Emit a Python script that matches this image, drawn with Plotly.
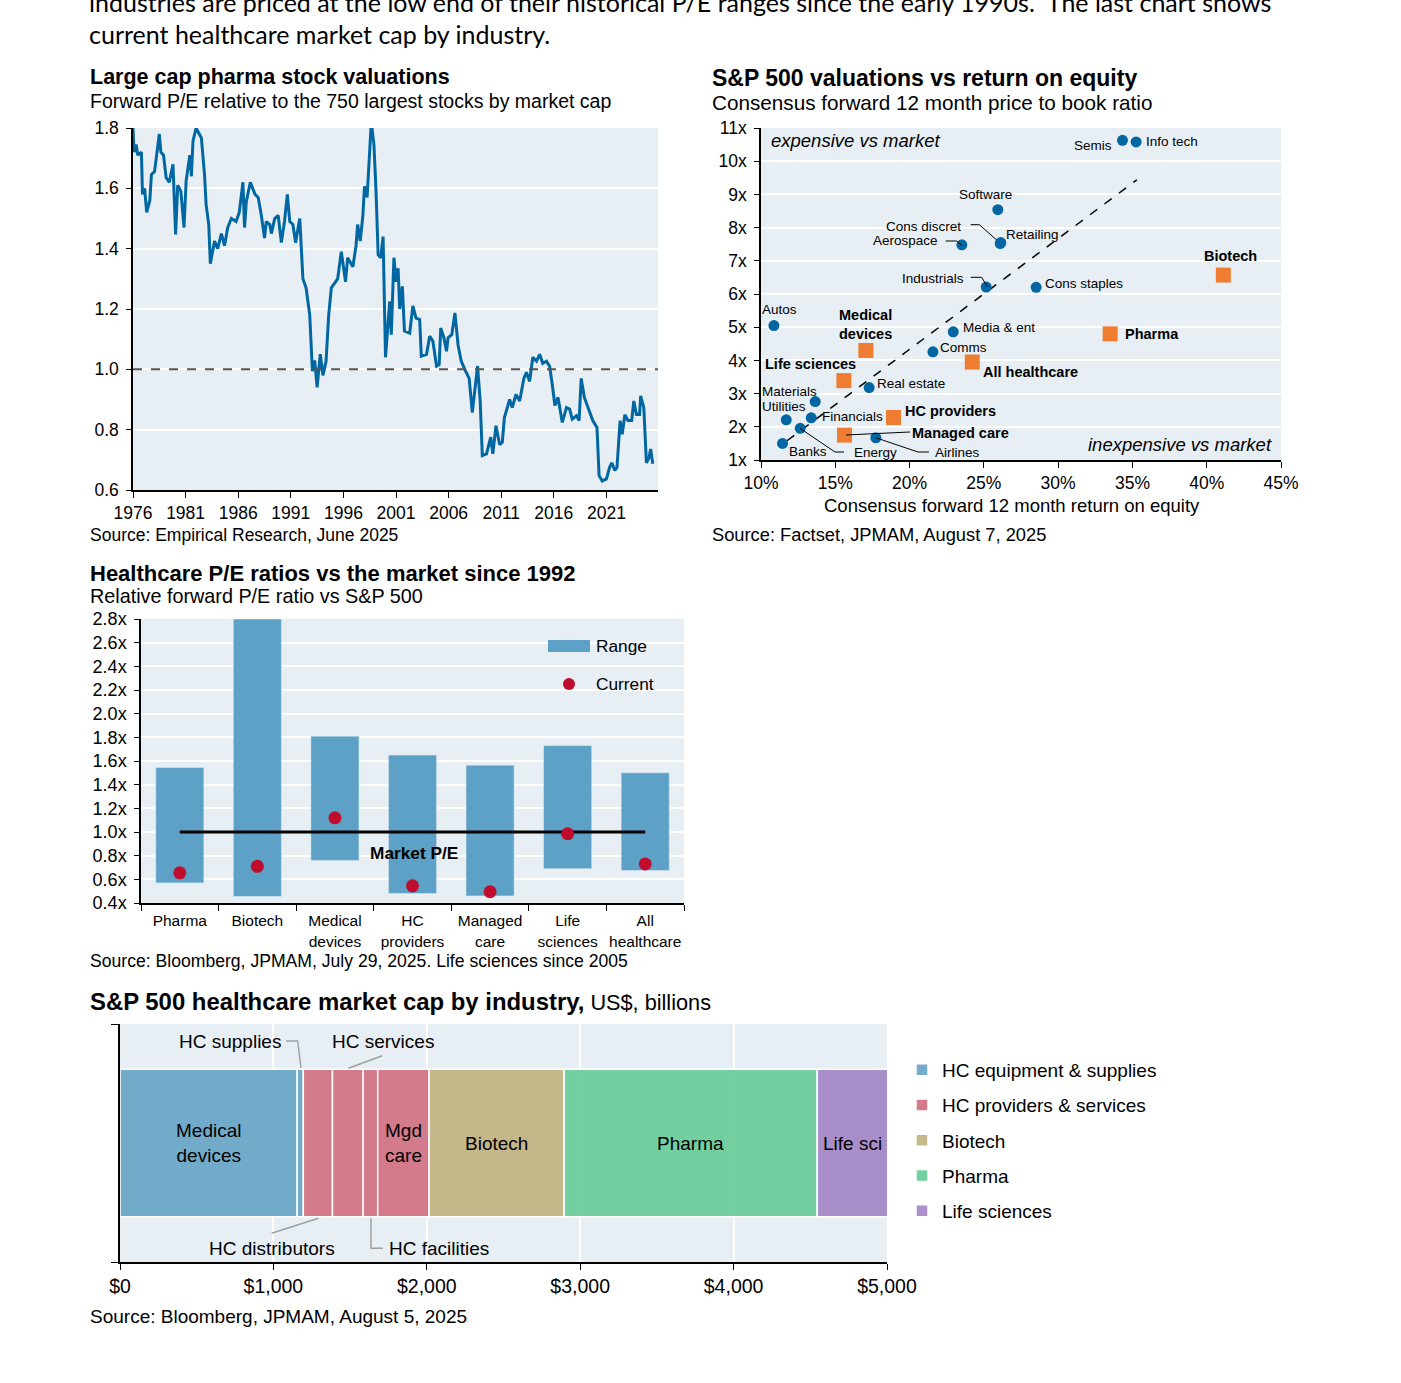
import plotly.graph_objects as go

W, H = 1401, 1383
FONT = "Liberation Sans, Arial, Helvetica, sans-serif"
BG = "#E7EFF5"
BLUE = "#0067A3"
ORANGE = "#EE7D31"

# ---------------- Chart 1: large cap pharma relative P/E ----------------
pe_years = [1976.0, 1976.1, 1976.3, 1976.45, 1976.8, 1976.9, 1977.1, 1977.3, 1977.6, 1977.75,
            1978.05, 1978.2, 1978.5, 1978.65, 1978.9, 1979.15, 1979.45, 1979.8, 1980.05, 1980.25,
            1980.55, 1980.85, 1981.05, 1981.4, 1981.55, 1981.7, 1982.0, 1982.5, 1982.8, 1982.95,
            1983.2, 1983.35, 1983.75, 1984.05, 1984.4, 1984.7, 1985.0, 1985.35, 1985.8, 1986.1,
            1986.45, 1986.6, 1986.77, 1987.15, 1987.6, 1987.9, 1988.2, 1988.5, 1988.67, 1989.0,
            1989.15, 1989.47, 1989.8, 1990.1, 1990.4, 1990.67, 1990.9, 1991.2, 1991.45, 1991.85,
            1992.15, 1992.45, 1992.8, 1993.05, 1993.27, 1993.5, 1993.8, 1994.05, 1994.35, 1994.6,
            1994.85, 1995.45, 1995.8, 1996.2, 1996.4, 1996.9, 1997.2, 1997.35, 1997.6, 1997.85,
            1998.0, 1998.25, 1998.65, 1998.9, 1999.1, 1999.3, 1999.55, 1999.77, 2000.0, 2000.4,
            2000.55, 2000.8, 2001.0, 2001.2, 2001.35, 2001.6, 2001.8, 2002.3, 2002.6, 2002.9,
            2003.25, 2003.4, 2003.9, 2004.2, 2004.5, 2004.85, 2005.1, 2005.25, 2005.55, 2005.8,
            2005.95, 2006.3, 2006.6, 2006.9, 2007.2, 2007.6, 2007.95, 2008.25, 2008.5, 2008.75,
            2009.0, 2009.2, 2009.6, 2010.0, 2010.2, 2010.5, 2010.85, 2011.1, 2011.3, 2011.6,
            2011.8, 2012.05, 2012.4, 2012.75, 2013.15, 2013.4, 2013.7, 2014.0, 2014.35, 2014.65,
            2014.95, 2015.3, 2015.6, 2015.85, 2016.1, 2016.4, 2016.8, 2017.2, 2017.5, 2017.75,
            2018.15, 2018.4, 2018.6, 2018.9, 2019.25, 2019.7, 2020.1, 2020.3, 2020.6, 2021.0,
            2021.3, 2021.5, 2021.8, 2022.0, 2022.3, 2022.5, 2022.75, 2023.05, 2023.4, 2023.6,
            2023.85, 2024.15, 2024.25, 2024.55, 2024.8, 2025.05, 2025.2, 2025.4]
pe_values = [1.80, 1.72, 1.745, 1.71, 1.72, 1.58, 1.60, 1.52, 1.56, 1.645,
             1.656, 1.70, 1.78, 1.72, 1.71, 1.635, 1.62, 1.68, 1.447, 1.61,
             1.59, 1.47, 1.625, 1.71, 1.64, 1.756, 1.80, 1.767, 1.645, 1.546,
             1.48, 1.35, 1.425, 1.40, 1.45, 1.41, 1.47, 1.50, 1.49, 1.52,
             1.62, 1.47, 1.556, 1.62, 1.58, 1.57, 1.51, 1.435, 1.49, 1.48,
             1.45, 1.50, 1.51, 1.42, 1.49, 1.58, 1.49, 1.48, 1.42, 1.50,
             1.30, 1.27, 1.18, 0.994, 1.03, 0.94, 1.05, 0.98, 1.027, 1.18,
             1.27, 1.30, 1.39, 1.29, 1.37, 1.34, 1.41, 1.48, 1.425, 1.51,
             1.607, 1.57, 1.82, 1.745, 1.59, 1.38, 1.37, 1.44, 1.04, 1.225,
             1.115, 1.37, 1.29, 1.335, 1.20, 1.275, 1.127, 1.12, 1.21, 1.17,
             1.165, 1.044, 1.05, 1.11, 1.094, 1.011, 1.016, 1.137, 1.105, 1.06,
             1.105, 1.115, 1.187, 1.08, 1.027, 0.995, 0.97, 0.857, 0.94, 1.011,
             0.895, 0.714, 0.72, 0.775, 0.72, 0.813, 0.75, 0.758, 0.84, 0.88,
             0.90, 0.873, 0.917, 0.895, 0.97, 0.99, 0.96, 1.04, 1.027, 1.05,
             1.02, 1.027, 1.01, 0.95, 0.88, 0.907, 0.824, 0.873, 0.868, 0.835,
             0.846, 0.83, 0.97, 0.907, 0.873, 0.83, 0.807, 0.648, 0.63, 0.637,
             0.675, 0.69, 0.665, 0.675, 0.83, 0.785, 0.85, 0.83, 0.83, 0.895,
             0.85, 0.85, 0.912, 0.873, 0.69, 0.708, 0.736, 0.687]
pe_year_ticks = [1976, 1981, 1986, 1991, 1996, 2001, 2006, 2011, 2016, 2021]
pe_reference = 1.0

# ---------------- Chart 2: S&P 500 P/B vs ROE ----------------
sector_names = ["Semis", "Info tech", "Software", "Retailing", "Cons discret", "Aerospace",
                "Industrials", "Cons staples", "Autos", "Media & ent", "Comms", "Real estate",
                "Materials", "Utilities", "Financials", "Banks", "Energy", "Airlines"]
sector_roe = [34.33, 35.25, 25.94, 26.14, 26.10, 23.52, 25.16, 28.52, 10.87, 22.94, 21.57, 17.28,
              13.65, 11.70, 13.38, 11.45, 12.64, 17.73]
sector_pb = [10.63, 10.58, 8.54, 7.55, 7.52, 7.48, 6.21, 6.20, 5.05, 4.86, 4.26, 3.18,
             2.76, 2.21, 2.27, 1.50, 1.955, 1.67]
hc_names = ["Biotech", "Pharma", "Medical devices", "Life sciences", "All healthcare",
            "HC providers", "Managed care"]
hc_roe = [41.12, 33.50, 17.06, 15.58, 24.22, 18.92, 15.62]
hc_pb = [6.57, 4.80, 4.30, 3.39, 3.95, 2.28, 1.75]
trend_roe = [11.75, 35.3]
trend_pb = [1.58, 9.44]
roe_ticks = [10, 15, 20, 25, 30, 35, 40, 45]

# ---------------- Chart 3: healthcare P/E range vs market ----------------
pe_categories = ["Pharma", "Biotech", "Medical<br>devices", "HC<br>providers",
                 "Managed<br>care", "Life<br>sciences", "All<br>healthcare"]
range_low = [0.57, 0.455, 0.76, 0.48, 0.46, 0.69, 0.675]
range_high = [1.545, 2.80, 1.81, 1.65, 1.565, 1.73, 1.50]
current_pe = [0.655, 0.71, 1.12, 0.545, 0.495, 0.985, 0.73]
market_pe = 1.0

# ---------------- Chart 4: healthcare market cap by industry ----------------
cap_segments = ["Medical devices", "HC supplies", "HC distributors", "HC services",
                "HC facilities", "Mgd care", "Biotech", "Pharma", "Life sci"]
cap_values = [1155, 40, 190, 200, 95, 335, 880, 1650, 465]
cap_groups = ["HC equipment & supplies", "HC equipment & supplies",
              "HC providers & services", "HC providers & services", "HC providers & services",
              "HC providers & services", "Biotech", "Pharma", "Life sciences"]
cap_inside_labels = ["Medical<br>devices", "", "", "", "", "Mgd<br>care", "Biotech", "Pharma", "Life sci"]
group_colors = {
    "HC equipment & supplies": "rgba(101,162,196,0.9)",
    "HC providers & services": "rgba(208,109,128,0.9)",
    "Biotech": "rgba(192,176,126,0.9)",
    "Pharma": "rgba(102,203,150,0.9)",
    "Life sciences": "rgba(162,132,196,0.9)",
}
cap_ticks = [0, 1000, 2000, 3000, 4000, 5000]


def dom_x(a, b):
    return [a / W, b / W]


def dom_y(top, bot):
    return [1 - bot / H, 1 - top / H]


def T(text, x, y, size, bold=False, italic=False, xanchor="left", family=FONT, color="#000"):
    if bold:
        text = "<b>" + text + "</b>"
    if italic:
        text = "<i>" + text + "</i>"
    shift = {"left": -2, "right": 2, "center": 0}[xanchor]
    return dict(text=text, x=x / W, y=1 - y / H, xref="paper", yref="paper",
                xanchor=xanchor, yanchor="middle", showarrow=False, xshift=shift,
                font=dict(size=size, color=color, family=family))


def path(points, color="#000", width=1.0):
    d = "M " + " L ".join(f"{x / W:.5f},{1 - y / H:.5f}" for x, y in points)
    return dict(type="path", path=d, xref="paper", yref="paper",
                line=dict(color=color, width=width))


fig = go.Figure()

# Chart 1 trace
fig.add_trace(go.Scatter(x=pe_years, y=pe_values, mode="lines",
                         line=dict(color=BLUE, width=3), xaxis="x", yaxis="y",
                         showlegend=False, hoverinfo="skip"))

# Chart 2 traces
fig.add_trace(go.Scatter(x=trend_roe, y=trend_pb, mode="lines",
                         line=dict(color="#000", width=1.5, dash="dash"),
                         xaxis="x2", yaxis="y2", showlegend=False, hoverinfo="skip"))
fig.add_trace(go.Scatter(x=sector_roe, y=sector_pb, mode="markers", text=sector_names,
                         marker=dict(color=BLUE, size=11), xaxis="x2", yaxis="y2",
                         showlegend=False))
fig.add_trace(go.Scatter(x=hc_roe, y=hc_pb, mode="markers", text=hc_names,
                         marker=dict(color=ORANGE, size=15, symbol="square"),
                         xaxis="x2", yaxis="y2", showlegend=False))

# Chart 3 traces
fig.add_trace(go.Bar(x=pe_categories, y=[h - l for h, l in zip(range_high, range_low)],
                     base=range_low, width=0.62, marker=dict(color="#5DA1C6"),
                     xaxis="x3", yaxis="y3", name="Range", showlegend=False))
fig.add_trace(go.Scatter(x=[pe_categories[0], pe_categories[-1]], y=[market_pe, market_pe],
                         mode="lines", line=dict(color="#000", width=3),
                         xaxis="x3", yaxis="y3", showlegend=False, hoverinfo="skip"))
fig.add_trace(go.Scatter(x=pe_categories, y=current_pe, mode="markers",
                         marker=dict(color="#C00D2E", size=13),
                         xaxis="x3", yaxis="y3", name="Current", showlegend=False))

# Chart 4 traces
cap_base = []
running = 0
for v in cap_values:
    cap_base.append(running)
    running += v
seen = set()
for name, v, b, g in zip(cap_segments, cap_values, cap_base, cap_groups):
    fig.add_trace(go.Bar(y=[0], x=[v], base=[b], orientation="h", width=1,
                         marker=dict(color=group_colors[g], line=dict(color="white", width=1.5)),
                         name=g, legendgroup=g, showlegend=g not in seen, legend="legend2",
                         xaxis="x4", yaxis="y4", hovertext=name))
    seen.add(g)

axis_common = dict(showline=True, linecolor="#000", linewidth=1.5, ticks="outside",
                   tickcolor="#000", zeroline=False, color="#000", automargin=False)

fig.update_layout(
    width=W, height=H, margin=dict(l=0, r=0, t=0, b=0, pad=0, autoexpand=False),
    paper_bgcolor="white", plot_bgcolor=BG, barmode="overlay",
    font=dict(family=FONT, color="#000"),
    xaxis=dict(domain=dom_x(133, 658), anchor="y", range=[1976, 2025.9], tickvals=pe_year_ticks,
               showgrid=False, ticklen=6, tickfont=dict(size=17.5), **axis_common),
    yaxis=dict(domain=dom_y(128, 490), anchor="x", range=[0.6, 1.8], dtick=0.2, tickformat=".1f",
               gridcolor="white", gridwidth=1.5, ticklen=5, ticklabelstandoff=4,
               tickfont=dict(size=17.5), **axis_common),
    xaxis2=dict(domain=dom_x(761, 1281), anchor="y2", range=[10, 45], tickvals=roe_ticks,
                ticktext=[f"{v}%" for v in roe_ticks],
                showgrid=False, ticklen=6, tickfont=dict(size=17.5), **axis_common),
    yaxis2=dict(domain=dom_y(128, 460), anchor="x2", range=[1, 11], dtick=1, ticksuffix="x",
                gridcolor="white", gridwidth=1.5, ticklen=5, ticklabelstandoff=4,
                tickfont=dict(size=17.5), **axis_common),
    xaxis3=dict(domain=dom_x(141, 684), anchor="y3", tickson="boundaries", showgrid=False,
                tickangle=0, ticklen=6, ticklabelstandoff=3, tickfont=dict(size=15.5), **axis_common),
    yaxis3=dict(domain=dom_y(619, 903), anchor="x3", range=[0.4, 2.8], dtick=0.2, tickformat=".1f",
                ticksuffix="x", gridcolor="white", gridwidth=1.5, ticklen=5, ticklabelstandoff=4,
                tickfont=dict(size=18), **axis_common),
    xaxis4=dict(domain=dom_x(120, 887), anchor="y4", range=[0, 5000], tickvals=cap_ticks,
                ticktext=[f"${v:,}" for v in cap_ticks],
                gridcolor="white", gridwidth=1.5, ticklen=6,
                tickfont=dict(size=19.5), **axis_common),
    yaxis4=dict(domain=dom_y(1024, 1262), anchor="x4", range=[-0.806, 0.806],
                tickvals=[-0.806, 0.806], ticktext=["", ""], showgrid=False, ticklen=7,
                **axis_common),
    legend2=dict(x=902 / W, y=1 - 1051 / H, xanchor="left", yanchor="top",
                 font=dict(size=19, family=FONT), bgcolor="rgba(0,0,0,0)",
                 traceorder="grouped", tracegroupgap=7.5, itemwidth=30),
)

ann = []
# intro text
INTRO_FONT = "Lato, Open Sans, sans-serif"
ann.append(T("industries are priced at the low end of their historical P/E ranges since the early 1990s.&nbsp; The last chart shows",
             89, 2, 25, family=INTRO_FONT))
ann.append(T("current healthcare market cap by industry.", 89, 34, 25, family=INTRO_FONT))

# Chart 1 texts
ann.append(T("Large cap pharma stock valuations", 90, 77, 21.5, bold=True))
ann.append(T("Forward P/E relative to the 750 largest stocks by market cap", 90, 101, 19.5))
ann.append(T("Source: Empirical Research, June 2025", 90, 535, 17.5))

# Chart 2 texts
ann.append(T("S&P 500 valuations vs return on equity", 712, 78, 23, bold=True))
ann.append(T("Consensus forward 12 month price to book ratio", 712, 102, 20.7))
ann.append(T("Consensus forward 12 month return on equity", 1012, 505, 18.5, xanchor="center"))
ann.append(T("Source: Factset, JPMAM, August 7, 2025", 712, 535, 18.3))
ann.append(T("expensive vs market", 771, 141, 18.5, italic=True))
ann.append(T("inexpensive vs market", 1272, 444, 18.5, italic=True, xanchor="right"))
small_labels = [
    ("Semis", 1112, 145, "right"), ("Info tech", 1146, 142, "left"),
    ("Software", 986, 194, "center"), ("Cons discret", 961, 226, "right"),
    ("Retailing", 1006, 234, "left"), ("Aerospace", 938, 241, "right"),
    ("Industrials", 964, 278, "right"), ("Cons staples", 1045, 284, "left"),
    ("Autos", 762, 309, "left"), ("Media & ent", 963, 328, "left"),
    ("Comms", 940, 348, "left"), ("Real estate", 877, 384, "left"),
    ("Materials", 762, 391, "left"), ("Utilities", 762, 407, "left"),
    ("Financials", 822, 416, "left"), ("Banks", 789, 451, "left"),
    ("Energy", 854, 453, "left"), ("Airlines", 935, 452, "left"),
]
for t, x, y, a in small_labels:
    ann.append(T(t, x, y, 13.5, xanchor=a))
bold_labels = [
    ("Biotech", 1230, 256, "center"), ("Pharma", 1125, 334, "left"),
    ("Medical<br>devices", 865, 324, "center"), ("Life sciences", 765, 364, "left"),
    ("All healthcare", 983, 372, "left"), ("HC providers", 905, 411, "left"),
    ("Managed care", 912, 433, "left"),
]
for t, x, y, a in bold_labels:
    d = T(t, x, y, 14.5, bold=True, xanchor=a)
    if "<br>" in t:
        d["text"] = "<b>Medical</b><br><b>devices</b>"
    ann.append(d)

# Chart 3 texts
ann.append(T("Healthcare P/E ratios vs the market since 1992", 90, 573, 22, bold=True))
ann.append(T("Relative forward P/E ratio vs S&P 500", 90, 596, 19.8))
ann.append(T("Source: Bloomberg, JPMAM, July 29, 2025. Life sciences since 2005", 90, 961, 17.6))
ann.append(T("Market P/E", 414, 853, 17.3, bold=True, xanchor="center"))
ann.append(T("Range", 596, 646, 17.3))
ann.append(T("Current", 596, 684, 17.3))

# Chart 4 texts
ann.append(dict(text="<b>S&P 500 healthcare market cap by industry,</b><span style=\"font-size:21.7px\"> US$, billions</span>",
                x=90 / W, y=1 - 1001 / H, xref="paper", yref="paper", xanchor="left", xshift=-2,
                yanchor="middle", showarrow=False, font=dict(size=23.9, family=FONT, color="#000")))
ann.append(T("Source: Bloomberg, JPMAM, August 5, 2025", 90, 1316, 19))
ann.append(T("HC supplies", 281, 1041, 19, xanchor="right"))
ann.append(T("HC services", 332, 1041, 19))
ann.append(T("HC distributors", 209, 1248, 19))
ann.append(T("HC facilities", 389, 1248, 19))
for lab, v, b in zip(cap_inside_labels, cap_values, cap_base):
    if lab:
        ann.append(dict(text=lab, x=b + v / 2, y=0, xref="x4", yref="y4", showarrow=False,
                        xanchor="center", yanchor="middle",
                        font=dict(size=19, family=FONT, color="#000")))

shapes = []
# dashed 1.0 line in chart 1
shapes.append(dict(type="line", xref="paper", yref="y", x0=133 / W, x1=658 / W,
                   y0=pe_reference, y1=pe_reference,
                   line=dict(color="#555", width=2, dash="dash")))
# scatter leader lines
shapes.append(path([(970.7, 224.7), (979.3, 224.7), (996.7, 240)]))
shapes.append(path([(945.7, 241), (956.7, 241), (961.5, 245)]))
shapes.append(path([(970.7, 277.3), (981.7, 277.3), (987.3, 286.7)]))
shapes.append(path([(800, 428.3), (835, 452), (844, 452)]))
shapes.append(path([(875.7, 437.7), (918, 452), (929, 452)]))
shapes.append(path([(846, 435), (910, 432)]))
# range chart legend
shapes.append(dict(type="rect", xref="paper", yref="paper", x0=548 / W, x1=590 / W,
                   y0=1 - 652 / H, y1=1 - 640 / H, fillcolor="#5DA1C6", line=dict(width=0)))
shapes.append(dict(type="circle", xref="paper", yref="paper", x0=563 / W, x1=575 / W,
                   y0=1 - 690 / H, y1=1 - 678 / H, fillcolor="#C00D2E", line=dict(width=0)))
# market cap leader lines
GR = "#A0A0A0"
shapes.append(path([(286, 1041), (297.7, 1041), (301, 1067.7)], GR, 1.5))
shapes.append(path([(382.3, 1055.7), (348.3, 1068.3)], GR, 1.5))
shapes.append(path([(271.7, 1233.3), (318.3, 1218.3)], GR, 1.5))
shapes.append(path([(371, 1218.3), (371, 1248.3), (383, 1248.3)], GR, 1.5))

fig.update_layout(annotations=ann, shapes=shapes)

fig.write_html("out.html", config={"displayModeBar": False},
               post_script="document.body.style.margin='0';document.body.style.overflow='hidden';")
